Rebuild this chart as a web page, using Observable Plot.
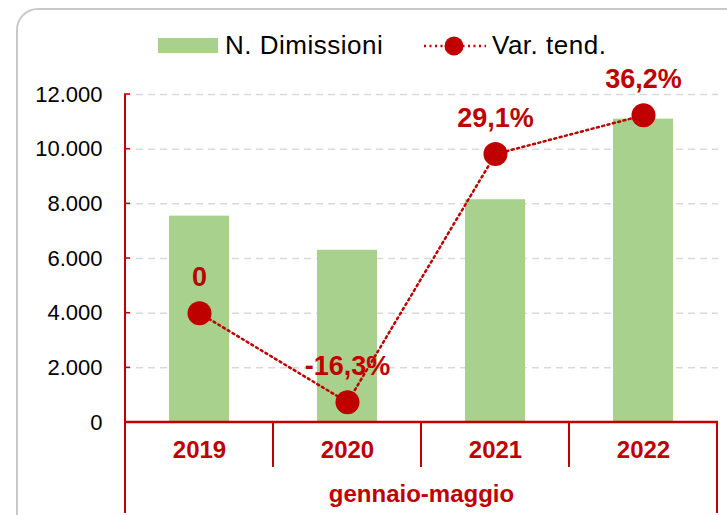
<!DOCTYPE html>
<html><head><meta charset="utf-8">
<script src="https://cdn.jsdelivr.net/npm/d3@7"></script>
<script src="https://cdn.jsdelivr.net/npm/@observablehq/plot@0.6"></script>
<style>
body{margin:0;background:#fff;font-family:"Liberation Sans",Arial,Helvetica,sans-serif;}
#wrap{position:relative;width:727px;height:515px;overflow:hidden;}
#frame{position:absolute;left:16px;top:8px;width:780px;height:560px;border:2px solid #c9c9c9;border-radius:22px;z-index:5;pointer-events:none;}
#legend{position:absolute;left:0;top:0;width:727px;height:50px;z-index:2;}
#chart{position:absolute;left:0;top:50px;}
.lg{position:absolute;font-size:26px;color:#000;line-height:26px;white-space:nowrap;letter-spacing:0.5px;}
</style></head>
<body><div id="wrap"><div id="legend"></div><div id="chart"></div><div id="frame"></div></div>
<script>
const years = ["2019", "2020", "2021", "2022"];
const dimissioni = [7550, 6300, 8150, 11100];
const varTend = [0, -16.3, 29.1, 36.2];
const varLabels = ["0", "-16,3%", "29,1%", "36,2%"];
const yTicks = [0, 2000, 4000, 6000, 8000, 10000, 12000];
const yTickLabels = ["0", "2.000", "4.000", "6.000", "8.000", "10.000", "12.000"];
const periodLabel = "gennaio-maggio";
const legendLabels = ["N. Dimissioni", "Var. tend."];
const secondaryAxis = [-20, 40]; // hidden secondary axis for Var. tend. (%)

const red = "#c00000", green = "#a9d18e", grid = "#d9d9d9";
const yMax = yTicks[yTicks.length - 1];
const toPrimary = p => (p - secondaryAxis[0]) / (secondaryAxis[1] - secondaryAxis[0]) * yMax;
const data = years.map((y, i) => ({year: y, value: dimissioni[i], pct: varTend[i], label: varLabels[i]}));

// Legend (HTML above the SVG)
const legend = document.getElementById("legend");
const sw = document.createElement("div");
sw.style.cssText = `position:absolute;left:158px;top:38px;width:60px;height:15px;background:${green}`;
legend.appendChild(sw);
const t1 = document.createElement("div");
t1.className = "lg"; t1.style.left = "225px"; t1.style.top = "32px"; t1.textContent = legendLabels[0];
legend.appendChild(t1);
const ls = d3.create("svg").attr("width", 70).attr("height", 30)
  .style("position", "absolute").style("left", "420px").style("top", "31px");
ls.append("line").attr("x1", 4).attr("x2", 66).attr("y1", 15).attr("y2", 15)
  .attr("stroke", red).attr("stroke-width", 2.5).attr("stroke-dasharray", "2,3.5");
ls.append("circle").attr("cx", 34).attr("cy", 15).attr("r", 9.5).attr("fill", red);
legend.appendChild(ls.node());
const t2 = document.createElement("div");
t2.className = "lg"; t2.style.left = "492px"; t2.style.top = "32px"; t2.textContent = legendLabels[1];
legend.appendChild(t2);

// Axis lines, inward ticks and category separators drawn from the scales
function axesMark(index, scales, values, dims) {
  const x = scales.x, y = scales.y;
  const g = d3.create("svg:g");
  const left = dims.marginLeft;
  const right = dims.width - dims.marginRight;
  const y0 = y(0), yTop = y(yMax), bottom = dims.height - 2;
  const bw = x.bandwidth ? x.bandwidth() : (right - left) / years.length;
  const bounds = years.map(v => x(v)).concat([x(years[years.length - 1]) + bw]);
  bounds.forEach((bx, i) => {
    const outer = i === 0 || i === bounds.length - 1;
    g.append("line").attr("x1", bx).attr("x2", bx)
      .attr("y1", i === 0 ? yTop : y0).attr("y2", outer ? bottom : y0 + 45)
      .attr("stroke", red).attr("stroke-width", 2);
  });
  g.append("line").attr("x1", left).attr("x2", right).attr("y1", y0).attr("y2", y0)
    .attr("stroke", red).attr("stroke-width", 2.5);
  yTicks.forEach(t => {
    g.append("line").attr("x1", left).attr("x2", left + 6).attr("y1", y(t)).attr("y2", y(t))
      .attr("stroke", red).attr("stroke-width", 1.5);
  });
  return g.node();
}

const chart = Plot.plot({
  width: 727,
  height: 465,
  marginTop: 44,
  marginBottom: 93,
  marginLeft: 124,
  marginRight: 9,
  style: {fontFamily: "'Liberation Sans', Arial, Helvetica, sans-serif", fontSize: "22px", color: "#000", background: "transparent"},
  x: {domain: years, padding: 0, axis: null},
  y: {domain: [0, yMax], ticks: yTicks, tickFormat: d => yTickLabels[yTicks.indexOf(d)], tickSize: 0, tickPadding: 22, label: null},
  marks: [
    Plot.ruleY(yTicks.filter(d => d > 0), {stroke: grid, strokeWidth: 1.5, strokeDasharray: "7,5"}),
    Plot.barY(data, {x: "year", y: "value", fill: green, insetLeft: 44, insetRight: 44}),
    axesMark,
    Plot.line(data, {x: "year", y: d => toPrimary(d.pct), stroke: red, strokeWidth: 2.5, strokeDasharray: "2,3.5"}),
    Plot.dot(data, {x: "year", y: d => toPrimary(d.pct), r: 12, fill: red}),
    Plot.text(data, {x: "year", y: d => toPrimary(d.pct), text: "label", dy: -36, fill: red, fontSize: 27, fontWeight: "bold"}),
    Plot.text(data, {x: "year", text: "year", frameAnchor: "bottom", lineAnchor: "middle", dy: 28, fill: red, fontSize: 24, fontWeight: "bold"}),
    Plot.text([periodLabel], {text: d => d, frameAnchor: "bottom", lineAnchor: "middle", dy: 72, fill: red, fontSize: 24, fontWeight: "bold"})
  ]
});
document.getElementById("chart").appendChild(chart);
</script>
</body></html>
